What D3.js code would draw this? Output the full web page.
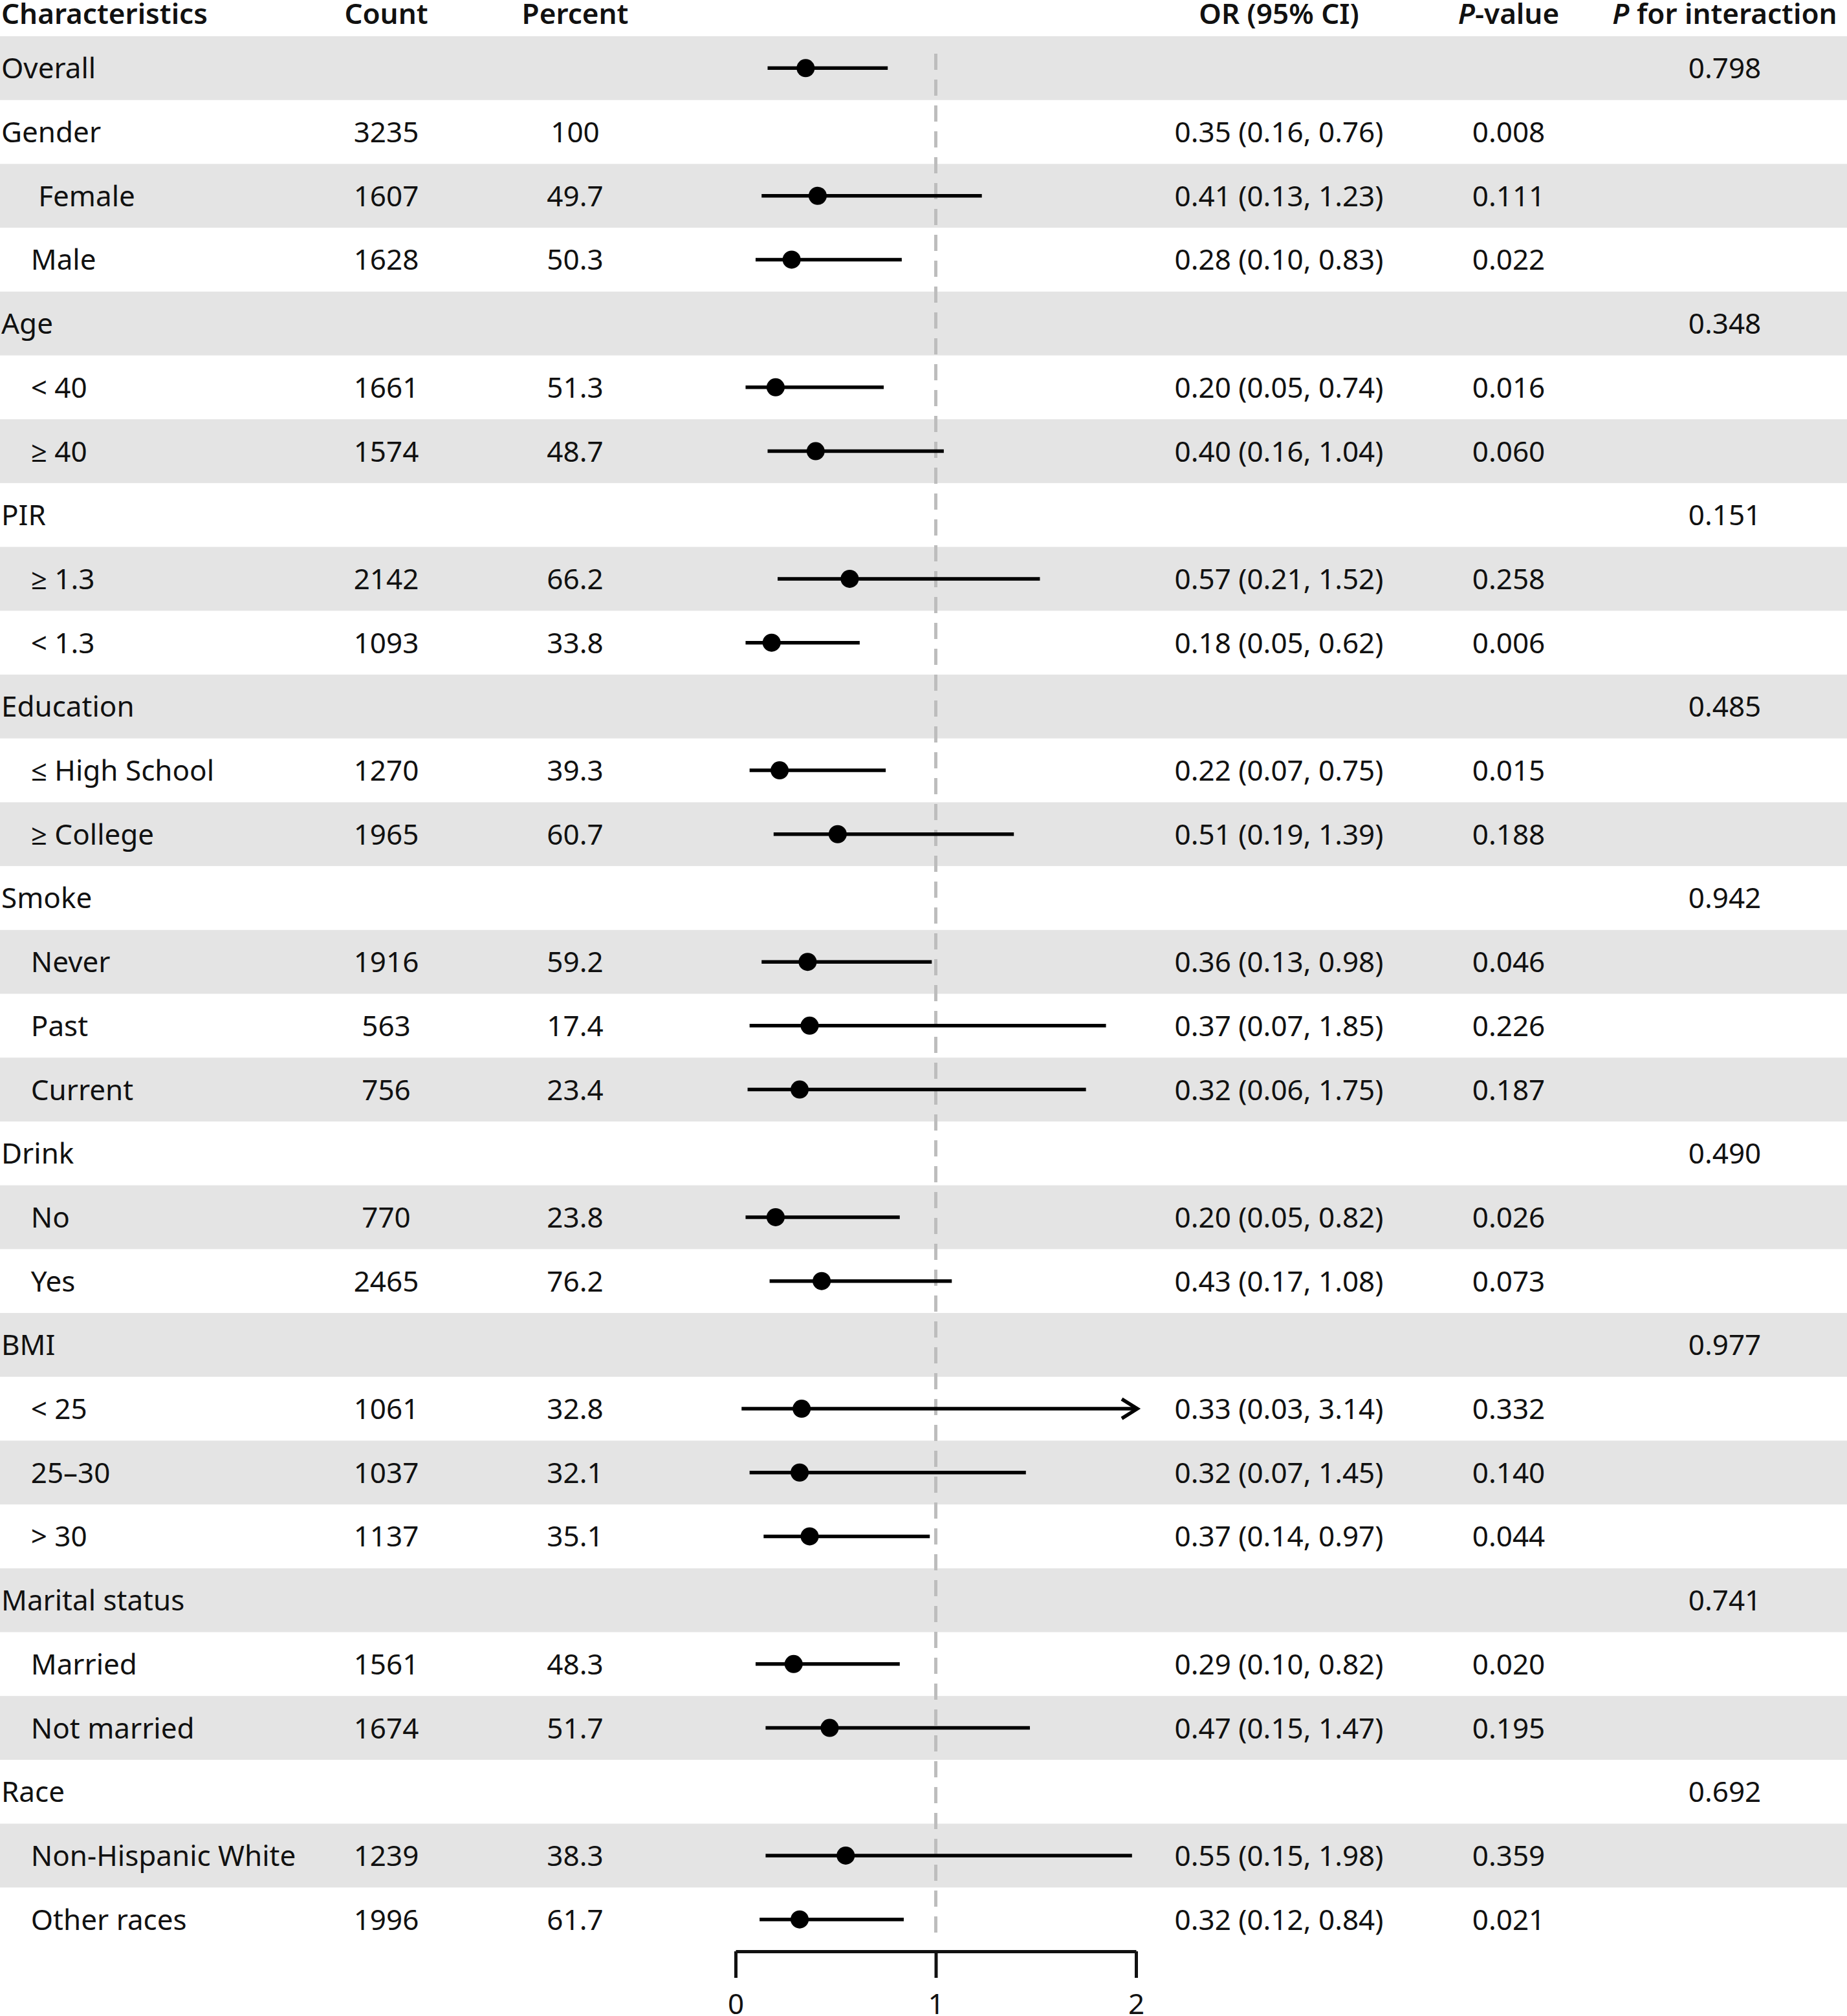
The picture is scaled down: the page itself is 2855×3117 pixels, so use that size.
<!DOCTYPE html>
<html>
<head>
<meta charset="utf-8">
<script src="https://cdn.jsdelivr.net/npm/d3@7"></script>
<style>
  html, body { margin: 0; padding: 0; background: #fff; }
  svg { display: block; }
  text { font-family: "Noto Sans", "Open Sans", sans-serif; fill: #111; }
</style>
</head>
<body>
<div id="chart"></div>
<script>
// ---------- data ----------
const rowLabels = ["Overall","Gender","     Female","    Male","Age","    < 40","    \u2265 40","PIR","    \u2265 1.3","    < 1.3",
  "Education","    \u2264 High School","    \u2265 College","Smoke","    Never","    Past","    Current","Drink","    No","    Yes",
  "BMI","    < 25","    25\u201330","    > 30","Marital status","    Married","    Not married","Race","    Non-Hispanic White","    Other races"];
const counts   = ["","3235","1607","1628","","1661","1574","","2142","1093","","1270","1965","","1916","563","756","","770","2465","","1061","1037","1137","","1561","1674","","1239","1996"];
const percents = ["","100","49.7","50.3","","51.3","48.7","","66.2","33.8","","39.3","60.7","","59.2","17.4","23.4","","23.8","76.2","","32.8","32.1","35.1","","48.3","51.7","","38.3","61.7"];
const orEst = [0.35,null,0.41,0.28,null,0.20,0.40,null,0.57,0.18,null,0.22,0.51,null,0.36,0.37,0.32,null,0.20,0.43,null,0.33,0.32,0.37,null,0.29,0.47,null,0.55,0.32];
const ciLow = [0.16,null,0.13,0.10,null,0.05,0.16,null,0.21,0.05,null,0.07,0.19,null,0.13,0.07,0.06,null,0.05,0.17,null,0.03,0.07,0.14,null,0.10,0.15,null,0.15,0.12];
const ciHigh= [0.76,null,1.23,0.83,null,0.74,1.04,null,1.52,0.62,null,0.75,1.39,null,0.98,1.85,1.75,null,0.82,1.08,null,3.14,1.45,0.97,null,0.82,1.47,null,1.98,0.84];
const orText = ["","0.35 (0.16, 0.76)","0.41 (0.13, 1.23)","0.28 (0.10, 0.83)","","0.20 (0.05, 0.74)","0.40 (0.16, 1.04)","","0.57 (0.21, 1.52)","0.18 (0.05, 0.62)",
  "","0.22 (0.07, 0.75)","0.51 (0.19, 1.39)","","0.36 (0.13, 0.98)","0.37 (0.07, 1.85)","0.32 (0.06, 1.75)","","0.20 (0.05, 0.82)","0.43 (0.17, 1.08)",
  "","0.33 (0.03, 3.14)","0.32 (0.07, 1.45)","0.37 (0.14, 0.97)","","0.29 (0.10, 0.82)","0.47 (0.15, 1.47)","","0.55 (0.15, 1.98)","0.32 (0.12, 0.84)"];
const pValues = ["","0.008","0.111","0.022","","0.016","0.060","","0.258","0.006","","0.015","0.188","","0.046","0.226","0.187","","0.026","0.073","","0.332","0.140","0.044","","0.020","0.195","","0.359","0.021"];
const pInteraction = ["0.798","","","","0.348","","","0.151","","","0.485","","","0.942","","","","0.490","","","0.977","","","","0.741","","","0.692","",""];
const axisTicks = [0, 1, 2];
const refValue = 1;

// ---------- layout ----------
const W = 2855, H = 3117;
const FS = 44;
const svg = d3.select("#chart").append("svg").attr("width", W).attr("height", H);

const y = d3.scaleBand().domain(d3.range(rowLabels.length)).range([56, 3017]);
const x = d3.scaleLinear().domain([0, 2]).range([1137, 1756]);
const cy = i => y(i) + y.bandwidth() / 2;

// stripes
svg.append("g").selectAll("rect")
  .data(d3.range(rowLabels.length).filter(i => i % 2 === 0))
  .join("rect")
  .attr("x", 0).attr("width", W)
  .attr("y", i => y(i)).attr("height", y.bandwidth())
  .attr("fill", "#e4e4e4");

// header
const colX = { label: 2, count: 597, pct: 889, or: 1977, p: 2332, pint: 2666 };
const hdr = svg.append("g").attr("font-size", FS).attr("font-weight", 600);
hdr.append("text").attr("x", colX.label).attr("y", 37).text("Characteristics");
hdr.append("text").attr("x", colX.count).attr("y", 37).attr("text-anchor", "middle").text("Count");
hdr.append("text").attr("x", colX.pct).attr("y", 37).attr("text-anchor", "middle").text("Percent");
hdr.append("text").attr("x", colX.or).attr("y", 37).attr("text-anchor", "middle").text("OR (95% CI)");
const pv = hdr.append("text").attr("x", colX.p).attr("y", 37).attr("text-anchor", "middle");
pv.append("tspan").attr("font-style", "italic").text("P");
pv.append("tspan").text("-value");
const pi = hdr.append("text").attr("x", colX.pint).attr("y", 37).attr("text-anchor", "middle");
pi.append("tspan").attr("font-style", "italic").text("P");
pi.append("tspan").text(" for interaction");

// table text
const body = svg.append("g").attr("font-size", FS);
const rows = d3.range(rowLabels.length);
function col(arr, xx, anchor) {
  body.append("g").selectAll("text").data(rows.filter(i => arr[i] !== ""))
    .join("text")
    .attr("x", xx).attr("y", i => cy(i) + 16)
    .attr("text-anchor", anchor)
    .style("white-space", "pre")
    .attr("xml:space", "preserve")
    .text(i => arr[i]);
}
col(rowLabels, colX.label, "start");
col(counts, colX.count, "middle");
col(percents, colX.pct, "middle");
col(orText, colX.or, "middle");
col(pValues, colX.p, "middle");
col(pInteraction, colX.pint, "middle");

// reference dashed line
svg.append("line")
  .attr("x1", x(refValue)).attr("x2", x(refValue))
  .attr("y1", y(0) + 27).attr("y2", y(rows.length - 1) + y.bandwidth() - 28)
  .attr("stroke", "#bdbdbd").attr("stroke-width", 5)
  .attr("stroke-dasharray", "25,15");

// CIs
const est = rows.filter(i => orEst[i] !== null);
const [dMin, dMax] = x.domain();
svg.append("g").selectAll("line").data(est).join("line")
  .attr("x1", i => x(Math.max(ciLow[i], dMin)))
  .attr("x2", i => x(Math.min(ciHigh[i], dMax)))
  .attr("y1", cy).attr("y2", cy)
  .attr("stroke", "#000").attr("stroke-width", 5.5);

// arrows for truncated CIs
svg.append("g").selectAll("path").data(est.filter(i => ciHigh[i] > dMax)).join("path")
  .attr("d", i => {
    const tx = x(dMax) + 2, ty = cy(i);
    return `M${tx - 24},${ty - 15}L${tx},${ty}L${tx - 24},${ty + 15}`;
  })
  .attr("fill", "none").attr("stroke", "#000").attr("stroke-width", 5.5);

// points
svg.append("g").selectAll("circle").data(est).join("circle")
  .attr("cx", i => x(orEst[i])).attr("cy", cy).attr("r", 14)
  .attr("fill", "#000");

// axis
const axisY = y(rows.length - 1) + y.bandwidth();
const ax = svg.append("g").attr("transform", `translate(0,${axisY})`)
  .call(d3.axisBottom(x).tickValues(axisTicks).tickFormat(d3.format("d"))
    .tickSizeInner(41).tickSizeOuter(0).tickPadding(25));
ax.select(".domain").attr("stroke", "#111").attr("stroke-width", 5);
ax.selectAll(".tick line").attr("stroke", "#111").attr("stroke-width", 5);
ax.selectAll(".tick text").attr("font-size", FS).attr("font-family", "Noto Sans, sans-serif").attr("fill", "#111");
</script>
</body>
</html>
